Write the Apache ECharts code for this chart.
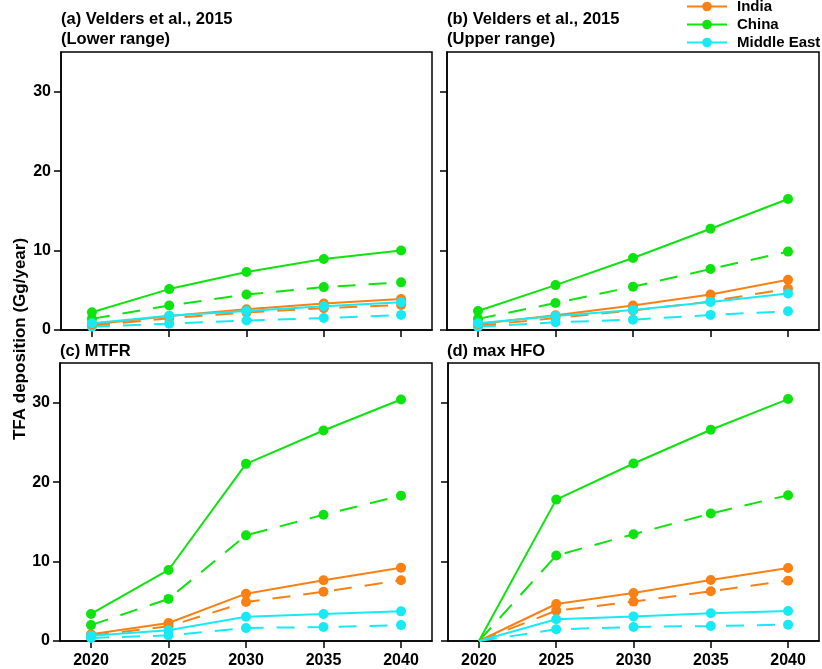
<!DOCTYPE html>
<html>
<head>
<meta charset="utf-8">
<script src="https://cdn.jsdelivr.net/npm/echarts@6/dist/echarts.min.js"></script>
<style>
html,body{margin:0;padding:0;background:#fff;}
#chart{width:822px;height:669px;}
</style>
</head>
<body>
<div id="chart"></div>
<script>
const years = [2020, 2025, 2030, 2035, 2040];
const yTicks = [0, 10, 20, 30];
const countries = ['India', 'China', 'Middle East'];
const panelTitles = ['(a) Velders et al., 2015\n(Lower range)', '(b) Velders et al., 2015\n(Upper range)', '(c) MTFR', '(d) max HFO'];
const yAxisTitle = 'TFA deposition (Gg/year)';

// panel (a)
const indiaA   = [0.7, 1.77, 2.6, 3.33, 3.9];
const indiaA_d = [0.55, 1.48, 2.2, 2.75, 3.15];
const chinaA   = [2.24, 5.15, 7.3, 8.95, 10.0];
const chinaA_d = [1.4, 3.08, 4.47, 5.4, 6.0];
const meA      = [0.85, 1.8, 2.4, 3.0, 3.5];
const meA_d    = [0.4, 0.8, 1.2, 1.5, 1.9];
// panel (b)
const indiaB   = [0.76, 1.86, 3.08, 4.47, 6.33];
const indiaB_d = [0.55, 1.5, 2.45, 3.6, 5.2];
const chinaB   = [2.4, 5.65, 9.07, 12.74, 16.5];
const chinaB_d = [1.4, 3.4, 5.44, 7.68, 9.87];
const meB      = [0.85, 1.77, 2.53, 3.54, 4.6];
const meB_d    = [0.4, 0.97, 1.3, 1.9, 2.36];
// panel (c)
const indiaC   = [0.84, 2.27, 5.96, 7.64, 9.23];
const indiaC_d = [0.67, 1.85, 4.9, 6.2, 7.64];
const chinaC   = [3.4, 8.94, 22.3, 26.5, 30.4];
const chinaC_d = [2.0, 5.3, 13.3, 15.9, 18.3];
const meC      = [0.67, 1.34, 3.06, 3.4, 3.73];
const meC_d    = [0.38, 0.71, 1.64, 1.76, 2.0];
// panel (d)
const indiaD   = [0, 4.66, 6.05, 7.69, 9.2];
const indiaD_d = [0, 3.82, 4.96, 6.26, 7.6];
const chinaD   = [0, 17.8, 22.35, 26.6, 30.46];
const chinaD_d = [0, 10.76, 13.45, 16.05, 18.36];
const meD      = [0, 2.73, 3.1, 3.49, 3.78];
const meD_d    = [0, 1.47, 1.76, 1.89, 2.06];

const panels = [
  {solid: [indiaA, chinaA, meA], dashed: [indiaA_d, chinaA_d, meA_d], hideZeroSymbol: false},
  {solid: [indiaB, chinaB, meB], dashed: [indiaB_d, chinaB_d, meB_d], hideZeroSymbol: false},
  {solid: [indiaC, chinaC, meC], dashed: [indiaC_d, chinaC_d, meC_d], hideZeroSymbol: false},
  {solid: [indiaD, chinaD, meD], dashed: [indiaD_d, chinaD_d, meD_d], hideZeroSymbol: true}
];

const colors = ['#fb8014', '#0de40d', '#17eaf4'];
const FONT = 'Liberation Sans, Arial, sans-serif';

const grids = [
  {left: 61, top: 52, width: 371, height: 278},
  {left: 447, top: 52, width: 372, height: 278},
  {left: 60, top: 363, width: 372, height: 279},
  {left: 448, top: 363, width: 371, height: 279}
].map(g => Object.assign(g, {show: true, borderColor: '#000', borderWidth: 1.5, backgroundColor: 'transparent'}));

const xAxes = grids.map((g, i) => ({
  type: 'value', gridIndex: i, min: 2018, max: 2042,
  splitLine: {show: false},
  axisLine: {show: true, lineStyle: {color: '#000', width: 1.5}},
  axisTick: {show: true, customValues: years, length: 7, lineStyle: {color: '#000', width: 1.5}},
  axisLabel: {show: i >= 2, customValues: years, margin: 12, color: '#000', fontWeight: 'bold', fontSize: 16, fontFamily: FONT,
              formatter: v => String(v)}
}));

const yAxes = grids.map((g, i) => ({
  type: 'value', gridIndex: i, min: 0, max: 35,
  splitLine: {show: false},
  axisLine: {show: true, lineStyle: {color: '#000', width: 1.5}},
  axisTick: {show: true, customValues: yTicks, length: 7, lineStyle: {color: '#000', width: 1.5}},
  axisLabel: {show: i % 2 === 0, customValues: yTicks, margin: 10, color: '#000', fontWeight: 'bold', fontSize: 16, fontFamily: FONT}
}));

const series = [];
panels.forEach((p, pi) => {
  const symSize = p.hideZeroSymbol ? (v => (v[0] === years[0] && v[1] === 0 ? 0 : 10)) : 10;
  p.dashed.forEach((arr, ci) => {
    series.push({
      type: 'line', name: countries[ci] + ' (dashed)', xAxisIndex: pi, yAxisIndex: pi,
      data: years.map((y, k) => [y, arr[k]]),
      symbol: 'circle', symbolSize: symSize, showAllSymbol: true,
      itemStyle: {color: colors[ci]},
      lineStyle: {color: colors[ci], width: 2, type: [18, 13]},
      z: 2, animation: false
    });
  });
  p.solid.forEach((arr, ci) => {
    series.push({
      type: 'line', name: countries[ci], xAxisIndex: pi, yAxisIndex: pi,
      data: years.map((y, k) => [y, arr[k]]),
      symbol: 'circle', symbolSize: symSize, showAllSymbol: true,
      itemStyle: {color: colors[ci]},
      lineStyle: {color: colors[ci], width: 2},
      z: 3, animation: false
    });
  });
});

const titlePos = [
  {left: 61, top: 9}, {left: 447, top: 9}, {left: 60, top: 341}, {left: 447, top: 341}
];

const option = {
  animation: false,
  backgroundColor: '#fff',
  title: panelTitles.map((t, i) => ({
    text: t, left: titlePos[i].left, top: titlePos[i].top, padding: 0,
    textStyle: {fontSize: 16.5, fontWeight: 'bold', color: '#000', fontFamily: FONT, lineHeight: 20}
  })),
  legend: {
    data: countries, orient: 'vertical', left: 686, top: -1, padding: 0,
    itemWidth: 40, itemHeight: 12, itemGap: 3,
    textStyle: {fontSize: 15, fontWeight: 'bold', color: '#000', fontFamily: FONT, lineHeight: 12, padding: [0, 0, 0, 5]}
  },
  grid: grids,
  xAxis: xAxes,
  yAxis: yAxes,
  series: series,
  graphic: [{
    type: 'text', x: 20, y: 339, rotation: Math.PI / 2,
    style: {text: yAxisTitle, fill: '#000', font: 'bold 17px ' + FONT, textAlign: 'center', textVerticalAlign: 'middle'}
  }]
};

const chart = echarts.init(document.getElementById('chart'), null, {renderer: 'canvas'});
chart.setOption(option);
</script>
</body>
</html>
